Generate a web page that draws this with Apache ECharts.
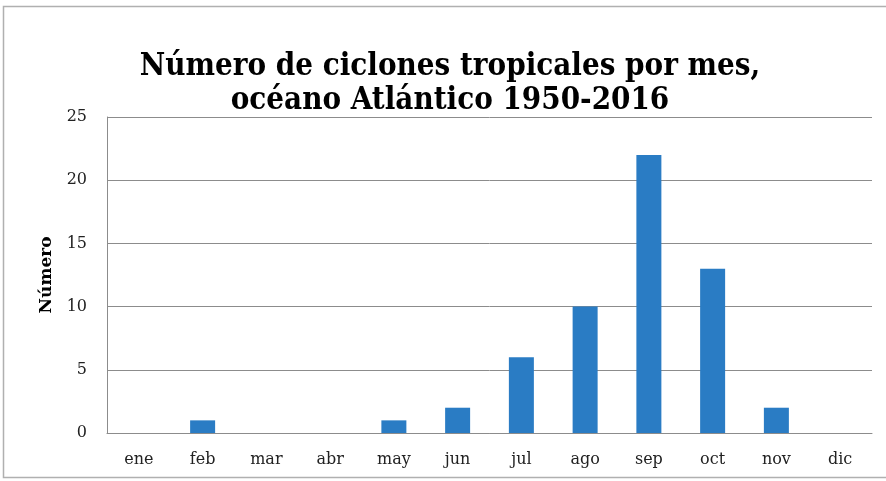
<!DOCTYPE html>
<html>
<head>
<meta charset="utf-8">
<script src="https://cdn.jsdelivr.net/npm/echarts@6/dist/echarts.min.js"></script>
<style>
  html, body { margin: 0; padding: 0; background: #fff; }
  #chart { width: 886px; height: 481px; }
</style>
</head>
<body>
<div id="chart"></div>
<script>
// Tropical cyclones per month, Atlantic 1950-2016
const months = ['ene', 'feb', 'mar', 'abr', 'may', 'jun', 'jul', 'ago', 'sep', 'oct', 'nov', 'dic'];
const cyclones = [0, 1, 0, 0, 1, 2, 6, 10, 22, 13, 2, 0];
const titleLines = ['Número de ciclones tropicales por mes,', 'océano Atlántico 1950-2016'];
const yName = 'Número';

const serif = '"DejaVu Serif", "Liberation Serif", serif';
const titleFont = 'bold 31px "DejaVu Serif Condensed", "DejaVu Serif", serif';
const chart = echarts.init(document.getElementById('chart'), null, { renderer: 'canvas' });

chart.setOption({
  animation: false,
  backgroundColor: '#ffffff',
  graphic: [
    {
      type: 'rect',
      shape: { x: 3.5, y: 6.5, width: 920, height: 471 },
      style: { fill: 'none', stroke: '#b0b0b0', lineWidth: 1.5 },
      silent: true
    },
    {
      type: 'text',
      x: 450, y: 51,
      style: {
        text: titleLines[0],
        font: titleFont,
        fill: '#000',
        textAlign: 'center',
        textVerticalAlign: 'alphabetic'
      }
    },
    {
      type: 'text',
      x: 450, y: 85,
      style: {
        text: titleLines[1],
        font: titleFont,
        fill: '#000',
        textAlign: 'center',
        textVerticalAlign: 'alphabetic'
      }
    }
  ],
  grid: { left: 107, right: 14, top: 117, bottom: 48, containLabel: false },
  xAxis: {
    type: 'category',
    data: months,
    axisLine: { show: true, lineStyle: { color: '#8c8c8c', width: 1 } },
    axisTick: { show: false },
    axisLabel: { color: '#222', fontFamily: serif, fontSize: 16, margin: 19 }
  },
  yAxis: {
    type: 'value',
    min: 0,
    max: 25,
    interval: 5,
    name: yName,
    nameLocation: 'middle',
    nameGap: 52,
    nameRotate: 90,
    nameTextStyle: { color: '#000', fontFamily: serif, fontWeight: 'bold', fontSize: 17 },
    axisLine: { show: true, lineStyle: { color: '#8c8c8c', width: 1 } },
    axisTick: { show: false },
    splitLine: { show: true, lineStyle: { color: '#8c8c8c', width: 1 } },
    axisLabel: { color: '#222', fontFamily: serif, fontSize: 16, margin: 20 }
  },
  series: [{
    type: 'bar',
    data: cyclones,
    barWidth: 25,
    itemStyle: { color: '#2a7cc4' },
    silent: true
  }]
});
</script>
</body>
</html>
